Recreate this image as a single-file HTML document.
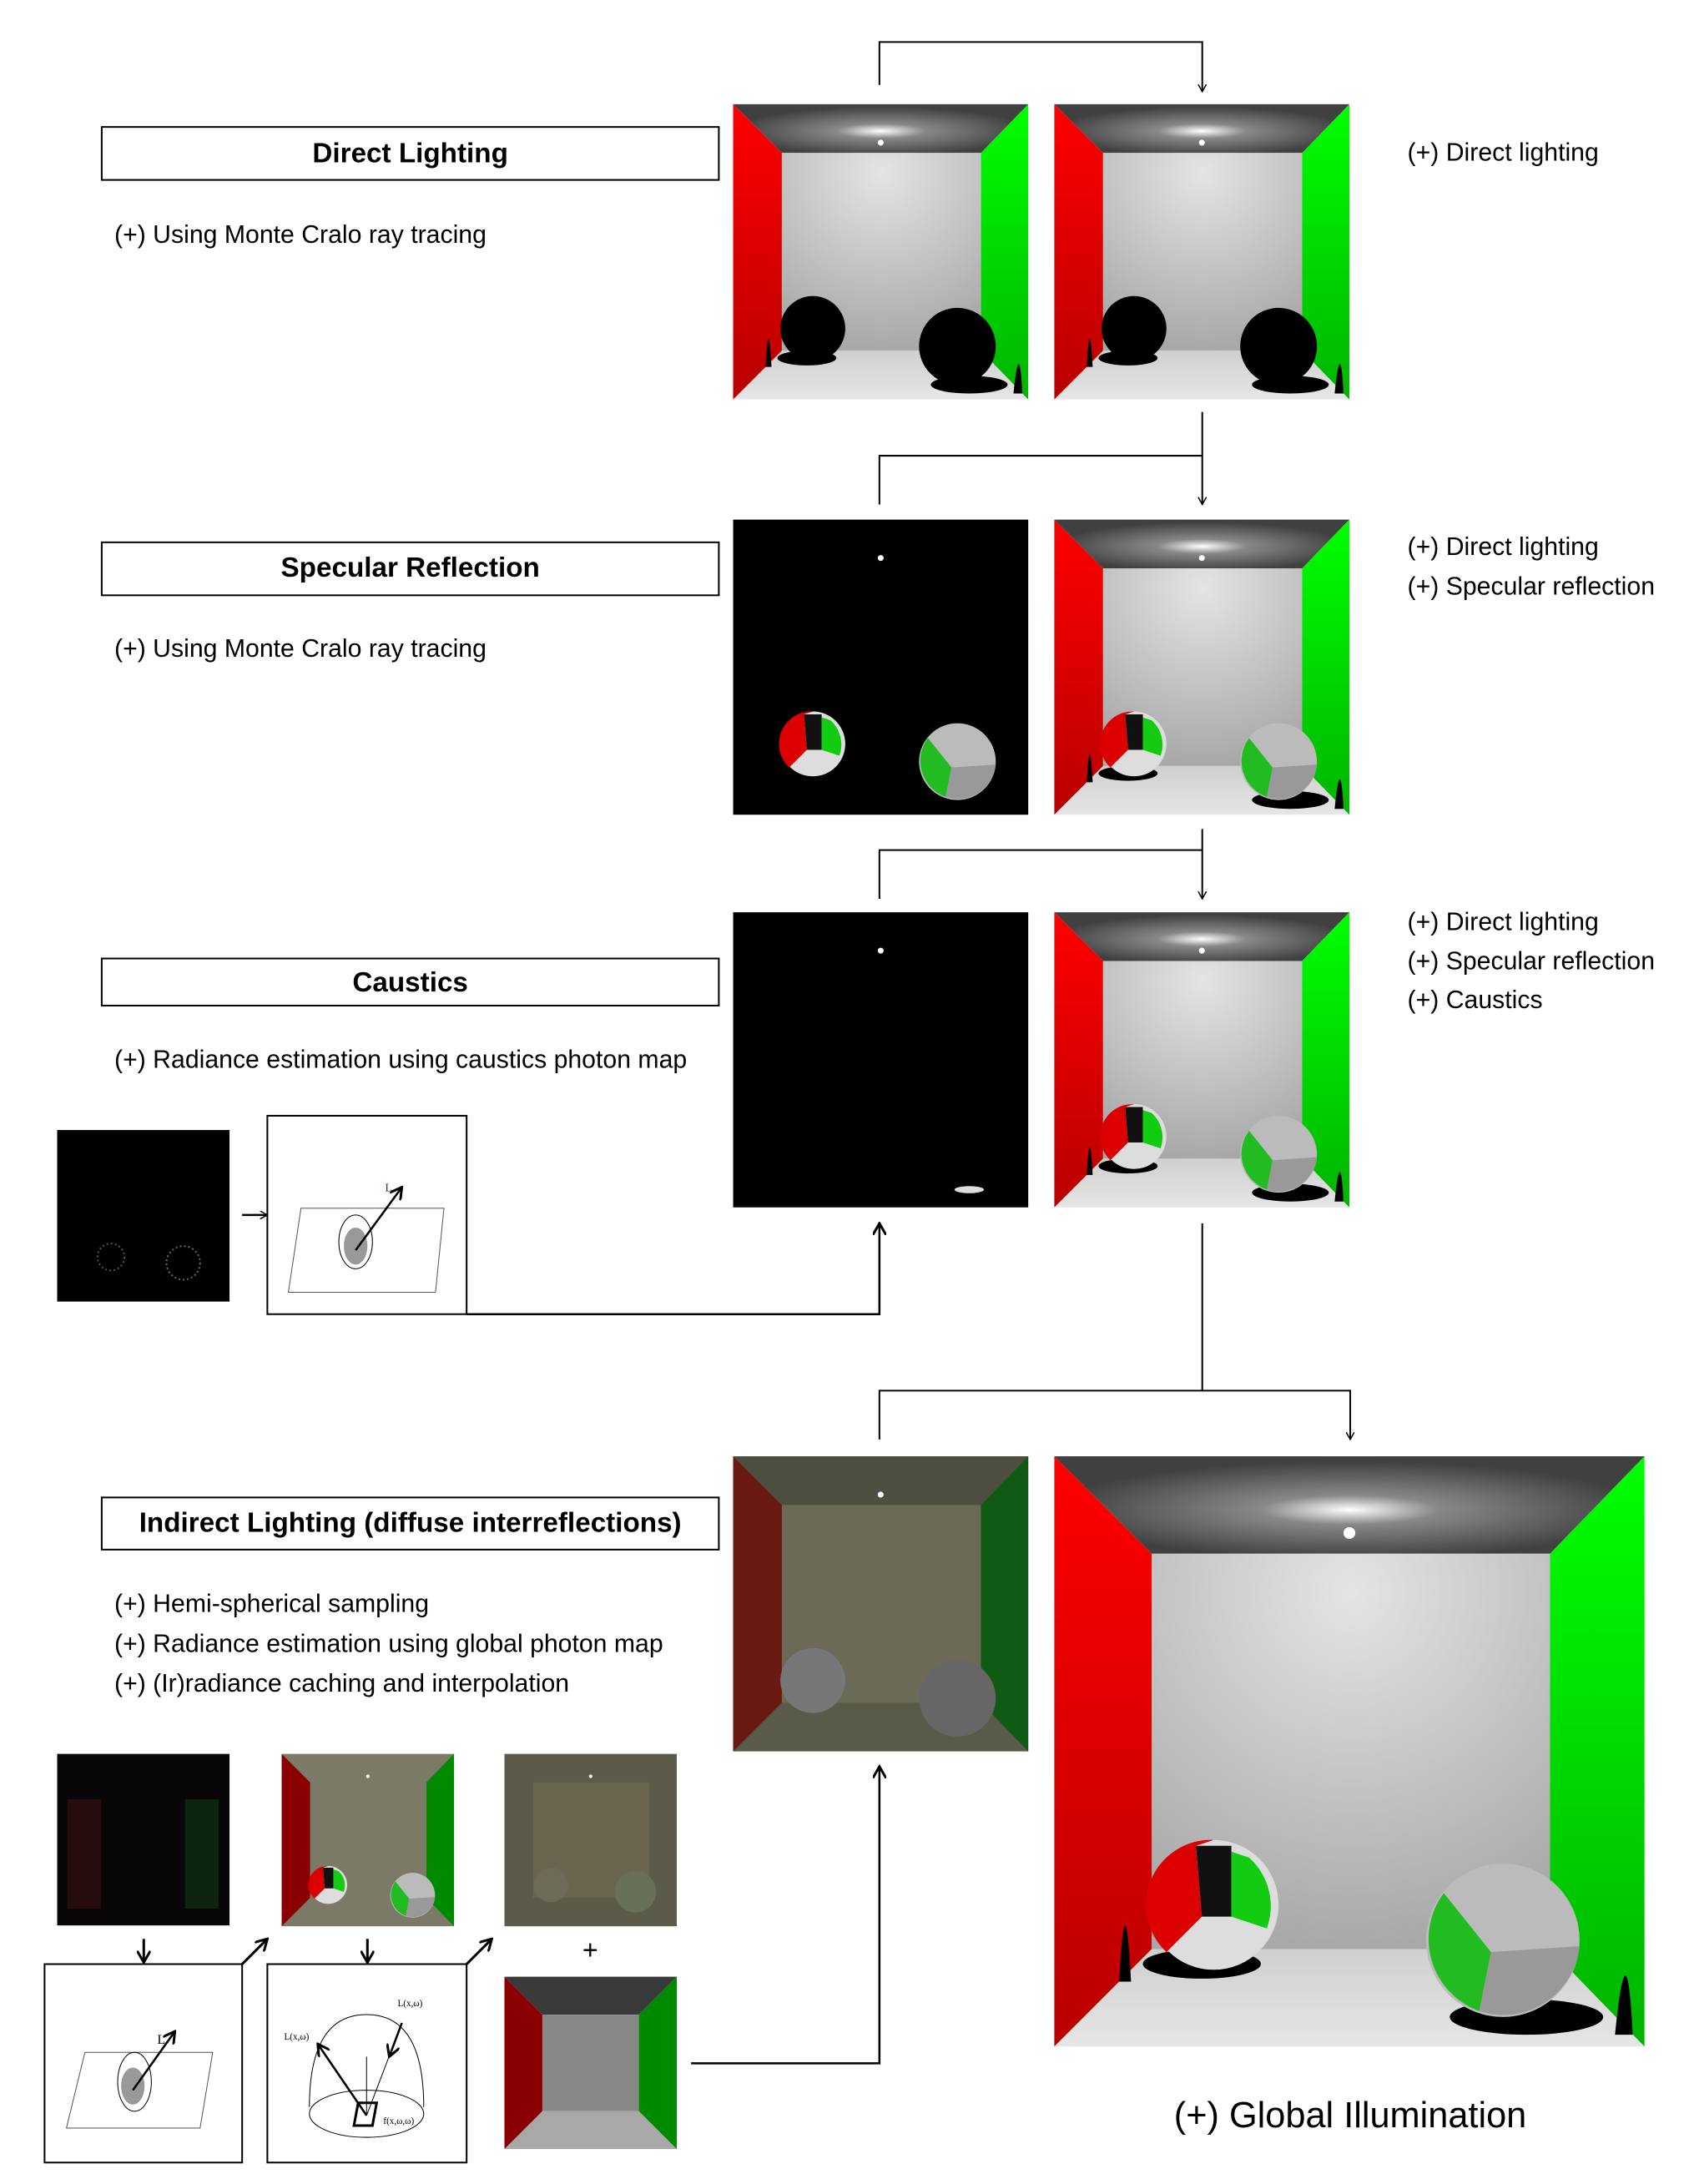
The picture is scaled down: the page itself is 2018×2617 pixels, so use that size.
<!DOCTYPE html>
<html><head><meta charset="utf-8"><style>html,body{margin:0;padding:0;background:#fff}svg{display:block}</style></head><body>
<svg width="2018" height="2617" viewBox="0 0 2018 2617" xmlns="http://www.w3.org/2000/svg" font-family="Liberation Sans, sans-serif">
<defs>
<linearGradient id="redv" x1="0" y1="0" x2="0" y2="1"><stop offset="0" stop-color="#ff0000"/><stop offset="1" stop-color="#b80000"/></linearGradient>
<linearGradient id="grn" x1="0" y1="0" x2="0" y2="1"><stop offset="0" stop-color="#00ff00"/><stop offset="1" stop-color="#00b400"/></linearGradient>
<radialGradient id="back" cx="0.5" cy="0.1" r="0.9"><stop offset="0" stop-color="#e4e4e4"/><stop offset="1" stop-color="#a8a8a8"/></radialGradient>
<radialGradient id="ceil" cx="0.5" cy="0.55" r="0.5"><stop offset="0" stop-color="#ffffff"/><stop offset="0.3" stop-color="#888"/><stop offset="1" stop-color="#404040"/></radialGradient>
<linearGradient id="floor" x1="0" y1="0" x2="0" y2="1"><stop offset="0" stop-color="#cfcfcf"/><stop offset="1" stop-color="#e6e6e6"/></linearGradient>
<g id="cb">
<polygon points="0,0 100,0 84,16.5 16.5,16.5" fill="url(#ceil)"/>
<polygon points="16.5,16.5 84,16.5 84,83.5 16.5,83.5" fill="url(#back)"/>
<polygon points="0,100 100,100 84,83.5 16.5,83.5" fill="url(#floor)"/>
<polygon points="0,0 16.5,16.5 16.5,83.5 0,100" fill="url(#redv)"/>
<polygon points="100,0 84,16.5 84,83.5 100,100" fill="url(#grn)"/>
<ellipse cx="50" cy="13" rx="1" ry="1" fill="#fff"/>
</g>
<g id="shad">
<ellipse cx="25" cy="86" rx="10" ry="2.5" fill="#000"/>
<ellipse cx="80" cy="95" rx="13" ry="3" fill="#000"/>
<path d="M11,89 Q12,70 13,89Z M95,98 Q97,78 98,98Z" fill="#000"/>
</g>
<g id="sph">
<circle cx="27" cy="76" r="11" fill="#ddd"/>
<path d="M27,65 A11,11 0 0 0 19,84 L25,78 L24,66Z" fill="#d00"/>
<path d="M24,66 L25,78 L30,78 L30,66Z" fill="#111"/>
<path d="M30,67 L30,78 L36,80 A11,11 0 0 0 33,68Z" fill="#1c1"/>
<circle cx="76" cy="82" r="13" fill="#bbb"/>
<path d="M66,74 A13,13 0 0 0 72,94 L74,84 Z" fill="#2b2"/>
<path d="M74,84 L89,83 A13,13 0 0 1 72,94Z" fill="#999"/>
</g>
<marker id="ah" markerWidth="10" markerHeight="10" refX="9" refY="5" orient="auto" markerUnits="userSpaceOnUse"><path d="M0,0 L9,5 L0,10" fill="none" stroke="#000" stroke-width="1.5"/></marker>
<marker id="ahb" markerWidth="16" markerHeight="16" refX="14" refY="8" orient="auto" markerUnits="userSpaceOnUse"><path d="M0,0 L14,8 L0,16" fill="none" stroke="#000" stroke-width="3"/></marker>
</defs>
<g transform="scale(1.0075)">
<!-- Row 1 -->
<rect x="121" y="151" width="734" height="63" fill="none" stroke="#000" stroke-width="2"/>
<text x="488" y="193" font-size="33" font-weight="bold" text-anchor="middle">Direct Lighting</text>
<text x="136" y="289" font-size="30">(+) Using Monte Cralo ray tracing</text>
<g transform="translate(872,124) scale(3.51)"><use href="#cb"/><use href="#shad"/><circle cx="27" cy="76" r="11" fill="#000"/><circle cx="76" cy="82" r="13" fill="#000"/></g>
<g transform="translate(1254,124) scale(3.51)"><use href="#cb"/><use href="#shad"/><circle cx="27" cy="76" r="11" fill="#000"/><circle cx="76" cy="82" r="13" fill="#000"/></g>
<text x="1674" y="191" font-size="30">(+) Direct lighting</text>
<polyline points="1046,101 1046,50 1430,50 1430,109" fill="none" stroke="#000" stroke-width="2" marker-end="url(#ah)"/>

<!-- Row 2 -->
<polyline points="1430,490 1430,600" fill="none" stroke="#000" stroke-width="2" marker-end="url(#ah)"/>
<polyline points="1430,542 1046,542 1046,600" fill="none" stroke="#000" stroke-width="2"/>
<rect x="121" y="645" width="734" height="63" fill="none" stroke="#000" stroke-width="2"/>
<text x="488" y="686" font-size="33" font-weight="bold" text-anchor="middle">Specular Reflection</text>
<text x="136" y="781" font-size="30">(+) Using Monte Cralo ray tracing</text>
<g transform="translate(872,618) scale(3.51)"><rect width="100" height="100" fill="#000"/><circle cx="50" cy="13" r="1" fill="#fff"/><use href="#sph"/></g>
<g transform="translate(1254,618) scale(3.51)"><use href="#cb"/><use href="#shad"/><use href="#sph"/></g>
<text x="1674" y="660" font-size="30">(+) Direct lighting</text>
<text x="1674" y="707" font-size="30">(+) Specular reflection</text>

<!-- Row 3 -->
<polyline points="1430,986 1430,1069" fill="none" stroke="#000" stroke-width="2" marker-end="url(#ah)"/>
<polyline points="1430,1011 1046,1011 1046,1069" fill="none" stroke="#000" stroke-width="2"/>
<rect x="121" y="1140" width="734" height="56" fill="none" stroke="#000" stroke-width="2"/>
<text x="488" y="1179" font-size="33" font-weight="bold" text-anchor="middle">Caustics</text>
<text x="136" y="1270" font-size="30">(+) Radiance estimation using caustics photon map</text>
<g transform="translate(872,1085) scale(3.51)"><rect width="100" height="100" fill="#000"/><circle cx="50" cy="13" r="1" fill="#fff"/><ellipse cx="80" cy="94" rx="5" ry="1.2" fill="#ddd"/></g>
<g transform="translate(1254,1085) scale(3.51)"><use href="#cb"/><use href="#shad"/><use href="#sph"/></g>
<text x="1674" y="1106" font-size="30">(+) Direct lighting</text>
<text x="1674" y="1153" font-size="30">(+) Specular reflection</text>
<text x="1674" y="1199" font-size="30">(+) Caustics</text>
<rect x="68" y="1344" width="205" height="204" fill="#000"/>
<circle cx="132" cy="1495" r="16" fill="none" stroke="#555" stroke-width="2" stroke-dasharray="2 3"/>
<circle cx="218" cy="1502" r="20" fill="none" stroke="#666" stroke-width="2" stroke-dasharray="2 3"/>
<line x1="288" y1="1445" x2="318" y2="1445" stroke="#000" stroke-width="2.5" marker-end="url(#ah)"/>
<rect x="318" y="1327" width="237" height="236" fill="#fff" stroke="#000" stroke-width="2"/>
<g transform="translate(318,1327)">
<polygon points="40,110 210,110 200,210 25,210" fill="none" stroke="#555" stroke-width="1"/>
<ellipse cx="105" cy="155" rx="14" ry="22" fill="#999"/>
<ellipse cx="105" cy="150" rx="20" ry="32" fill="none" stroke="#000"/>
<line x1="105" y1="160" x2="160" y2="85" stroke="#000" stroke-width="2.5" marker-end="url(#ahb)"/>
<text x="140" y="90" font-size="14" font-family="Liberation Serif, serif" fill="#236">L</text>
</g>
<polyline points="555,1563 1046,1563 1046,1455" fill="none" stroke="#000" stroke-width="2.5" marker-end="url(#ahb)"/>

<!-- Row 4 -->
<polyline points="1430,1455 1430,1654" fill="none" stroke="#000" stroke-width="2"/>
<polyline points="1046,1712 1046,1654 1606,1654 1606,1712" fill="none" stroke="#000" stroke-width="2" marker-end="url(#ah)"/>
<rect x="121" y="1781" width="734" height="62" fill="none" stroke="#000" stroke-width="2"/>
<text x="488" y="1822" font-size="33" font-weight="bold" text-anchor="middle">Indirect Lighting (diffuse interreflections)</text>
<text x="136" y="1917" font-size="30">(+) Hemi-spherical sampling</text>
<text x="136" y="1965" font-size="30">(+) Radiance estimation using global photon map</text>
<text x="136" y="2012" font-size="30">(+) (Ir)radiance caching and interpolation</text>
<g transform="translate(872,1732) scale(3.51)">
<rect width="100" height="100" fill="#5a5a48"/>
<polygon points="0,0 100,0 84,16.5 16.5,16.5" fill="#4f4f40"/>
<polygon points="16.5,16.5 84,16.5 84,83.5 16.5,83.5" fill="#6b6a56"/>
<polygon points="0,0 16.5,16.5 16.5,83.5 0,100" fill="#6a1a10"/>
<polygon points="100,0 84,16.5 84,83.5 100,100" fill="#105a14"/>
<circle cx="50" cy="13" r="1" fill="#fff"/>
<circle cx="27" cy="76" r="11" fill="#777"/><circle cx="76" cy="82" r="13" fill="#666"/>
</g>
<g transform="translate(1254,1732) scale(7.02)"><use href="#cb"/><use href="#shad"/><use href="#sph"/></g>
<text x="1606" y="2530" font-size="43" text-anchor="middle">(+) Global Illumination</text>
<polyline points="822,2454 1046,2454 1046,2101" fill="none" stroke="#000" stroke-width="2.5" marker-end="url(#ahb)"/>

<rect x="68" y="2086" width="205" height="204" fill="#080606"/>
<rect x="80" y="2140" width="40" height="130" fill="#3a1010" opacity="0.6"/>
<rect x="220" y="2140" width="40" height="130" fill="#103a10" opacity="0.6"/>
<g transform="translate(335,2086) scale(2.05)">
<rect width="100" height="100" fill="#7a7a66"/>
<polygon points="0,0 16.5,16.5 16.5,83.5 0,100" fill="#8a0000"/>
<polygon points="100,0 84,16.5 84,83.5 100,100" fill="#008a00"/>
<circle cx="50" cy="13" r="1" fill="#fff"/><use href="#sph"/>
</g>
<g transform="translate(600,2086) scale(2.05)">
<rect width="100" height="100" fill="#5c5a48"/>
<polygon points="16.5,16.5 84,16.5 84,83.5 16.5,83.5" fill="#6a654f"/>
<circle cx="50" cy="13" r="1" fill="#fff"/>
<circle cx="27" cy="76" r="10" fill="#6e6a58"/><circle cx="76" cy="80" r="12" fill="#687058"/>
</g>
<line x1="171" y1="2306" x2="171" y2="2334" stroke="#000" stroke-width="3" marker-end="url(#ahb)"/>
<line x1="437" y1="2306" x2="437" y2="2334" stroke="#000" stroke-width="3" marker-end="url(#ahb)"/>
<line x1="288" y1="2336" x2="318" y2="2306" stroke="#000" stroke-width="3" marker-end="url(#ahb)"/>
<line x1="555" y1="2336" x2="585" y2="2306" stroke="#000" stroke-width="3" marker-end="url(#ahb)"/>
<text x="702" y="2330" font-size="32" text-anchor="middle">+</text>
<rect x="53" y="2336" width="235" height="236" fill="#fff" stroke="#000" stroke-width="2"/>
<g transform="translate(53,2336)">
<polygon points="48,105 200,105 185,195 26,195" fill="none" stroke="#555" stroke-width="1"/>
<ellipse cx="105" cy="145" rx="14" ry="22" fill="#999"/>
<ellipse cx="107" cy="140" rx="20" ry="35" fill="none" stroke="#000"/>
<line x1="105" y1="150" x2="155" y2="80" stroke="#000" stroke-width="2.5" marker-end="url(#ahb)"/>
<text x="134" y="95" font-size="16" font-family="Liberation Serif, serif">L</text>
</g>
<rect x="318" y="2336" width="237" height="236" fill="#fff" stroke="#000" stroke-width="2"/>
<g transform="translate(318,2336)" fill="none" stroke="#000">
<path d="M50,170 Q50,60 118,60 Q186,60 186,170"/>
<ellipse cx="118" cy="178" rx="68" ry="28"/>
<polygon points="108,165 130,165 125,192 103,192" stroke-width="3"/>
<line x1="118" y1="180" x2="118" y2="110"/>
<line x1="118" y1="180" x2="60" y2="95" stroke-width="2.5" marker-end="url(#ahb)"/>
<line x1="118" y1="180" x2="160" y2="70"/>
<line x1="160" y1="70" x2="145" y2="110" stroke-width="2.5" marker-end="url(#ahb)"/>
<text x="20" y="90" font-size="11" font-family="Liberation Serif, serif" fill="#000" stroke="none">L(x,ω)</text>
<text x="155" y="50" font-size="11" font-family="Liberation Serif, serif" fill="#000" stroke="none">L(x,ω)</text>
<text x="138" y="190" font-size="11" font-family="Liberation Serif, serif" fill="#000" stroke="none">f(x,ω,ω)</text>
</g>
<g transform="translate(600,2351) scale(2.05)">
<polygon points="0,0 100,0 78,22 22,22" fill="#3a3a3a"/>
<polygon points="22,22 78,22 78,78 22,78" fill="#888"/>
<polygon points="0,100 100,100 78,78 22,78" fill="#a8a8a8"/>
<polygon points="0,0 22,22 22,78 0,100" fill="#8a0000"/>
<polygon points="100,0 78,22 78,78 100,100" fill="#008a00"/>
</g>
</g>
</svg>
</body></html>
